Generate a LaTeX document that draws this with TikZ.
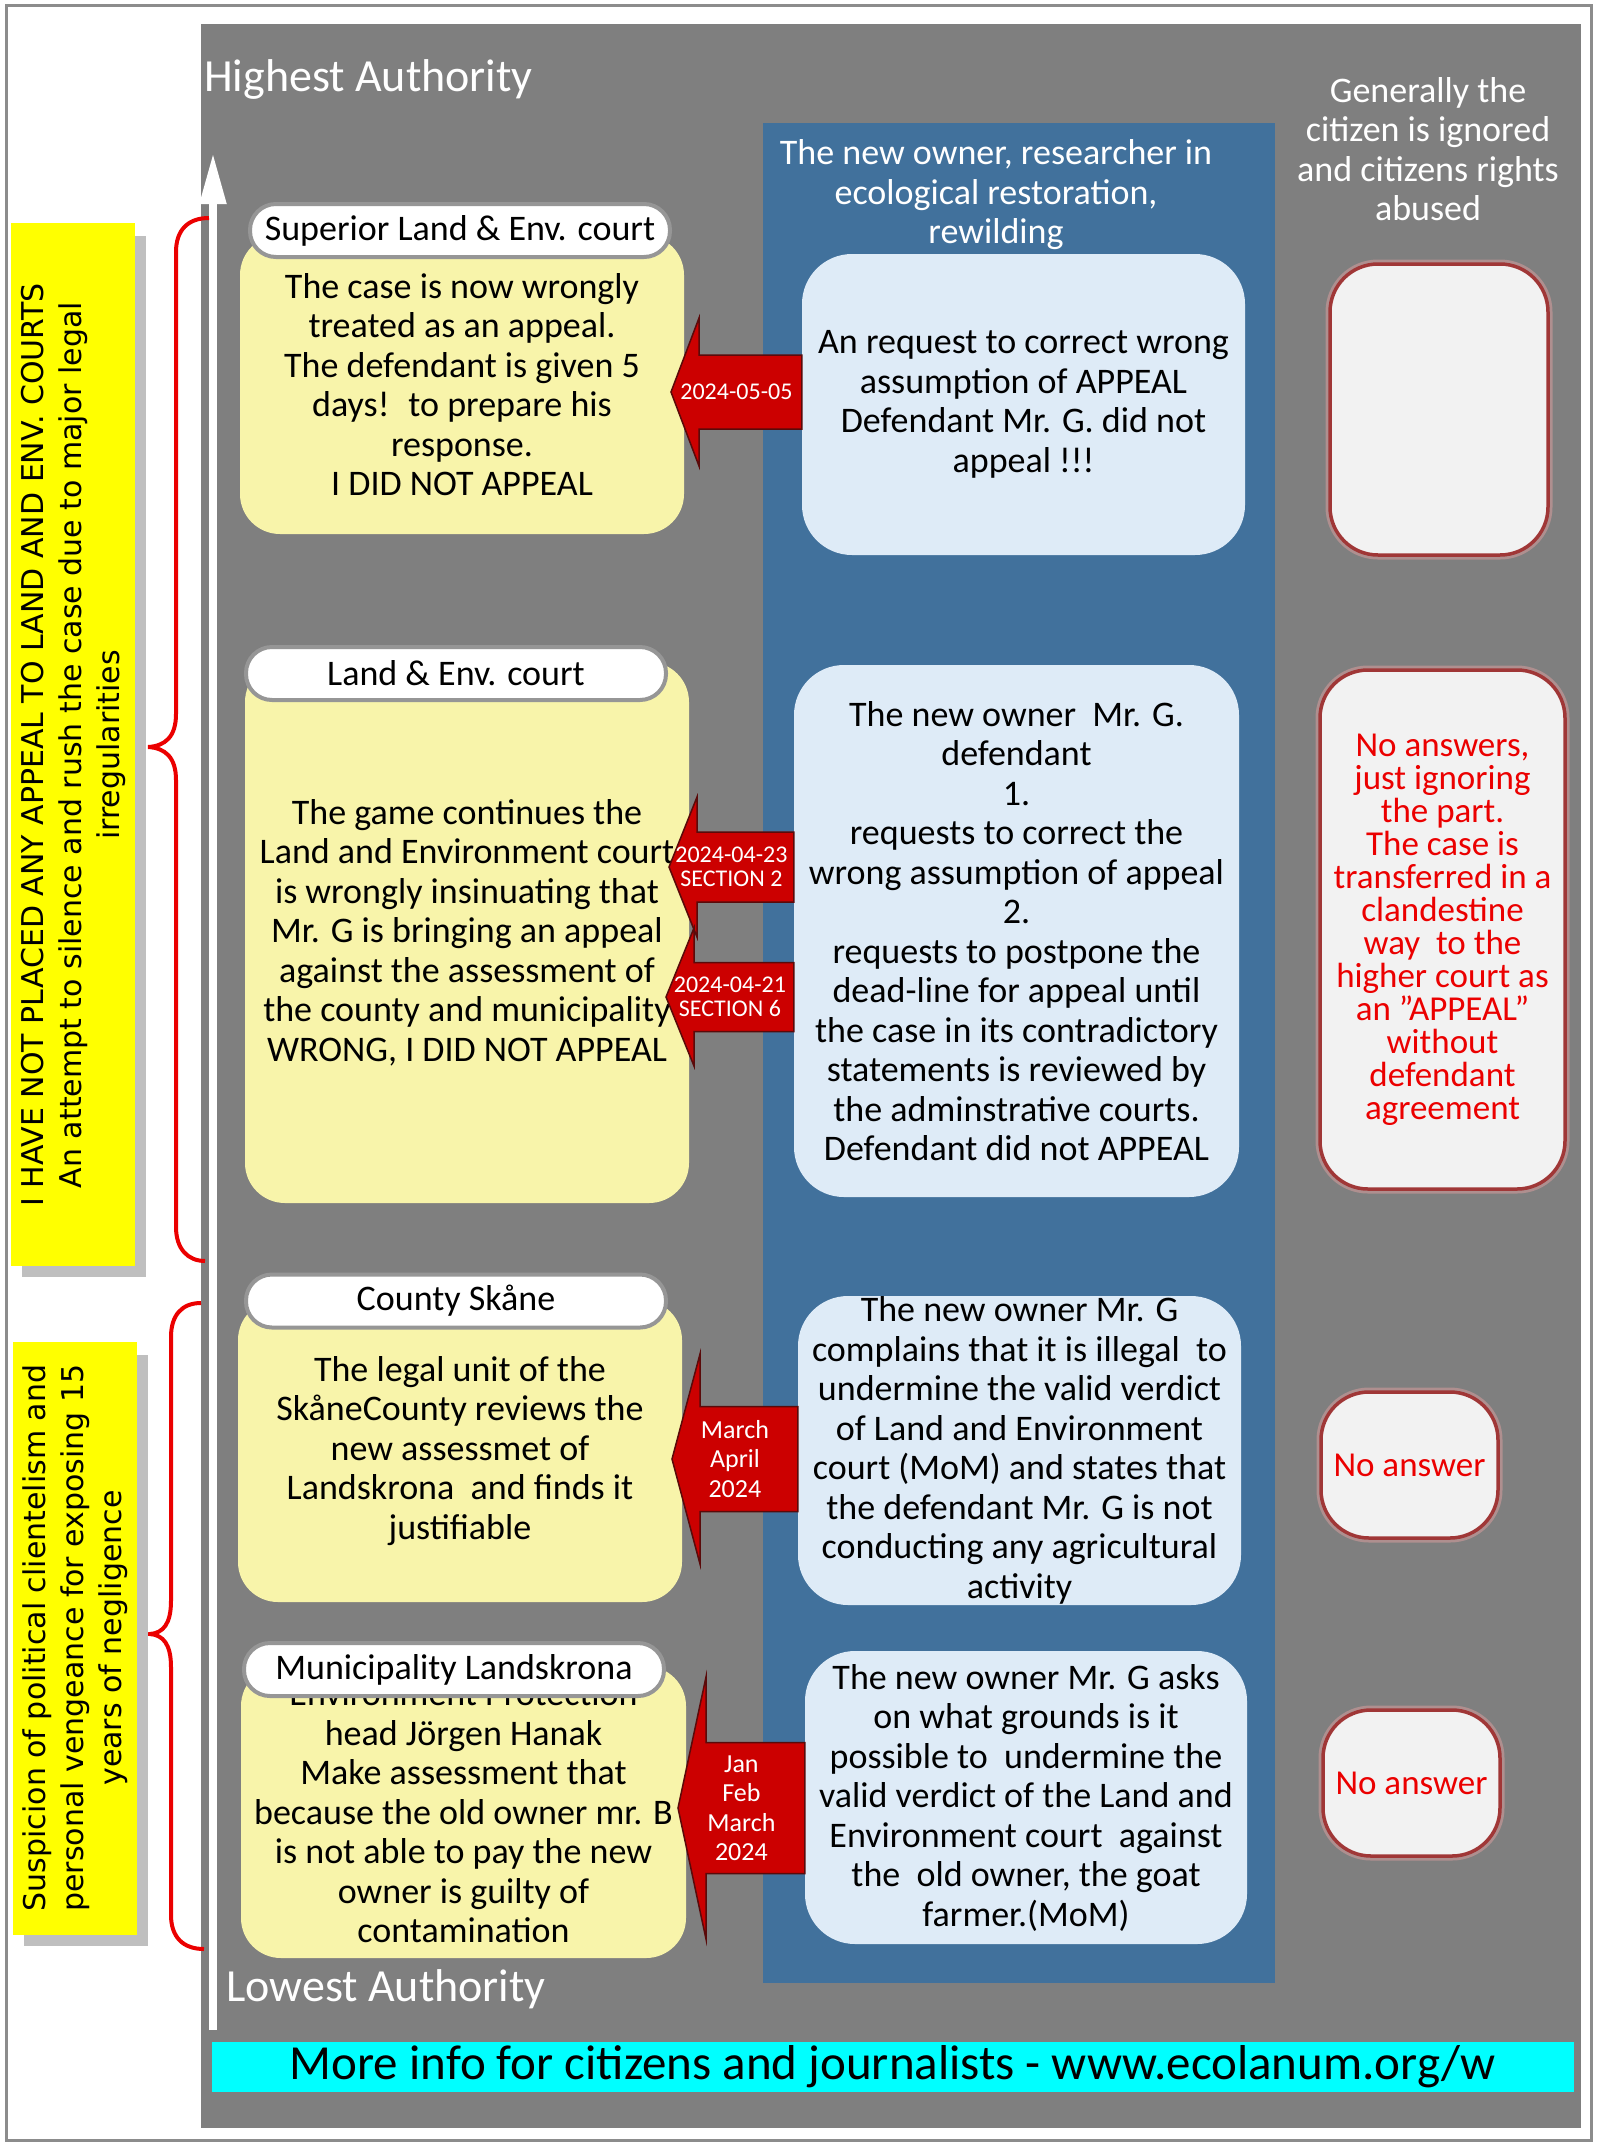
\documentclass[tikz,border=0pt]{standalone}
\usepackage{fontspec}
\setmainfont{Carlito}
\newfontfamily\sidefont{DejaVu Sans}
\usetikzlibrary{calc,arrows.meta}
\definecolor{frameGray}{RGB}{140,140,140}
\definecolor{panelGray}{RGB}{127,127,127}
\definecolor{ownerBlue}{RGB}{65,113,156}
\definecolor{ownerPale}{RGB}{222,235,247}
\definecolor{courtPale}{RGB}{248,244,170}
\definecolor{headRim}{RGB}{150,150,150}
\definecolor{claimYellow}{RGB}{255,255,0}
\definecolor{claimShade}{RGB}{191,191,191}
\definecolor{silentGray}{RGB}{242,242,242}
\definecolor{silentRim}{RGB}{160,55,55}
\definecolor{answerRed}{RGB}{235,0,0}
\definecolor{dateRed}{RGB}{204,0,0}
\definecolor{dateRim}{RGB}{90,10,10}
\definecolor{braceRed}{RGB}{235,0,0}
\definecolor{infoCyan}{RGB}{0,255,255}

\tikzset{
  court/.style={fill=courtPale, rounded corners=40pt, inner sep=0pt, align=center,
    font=\fontsize{36}{39.5}\selectfont},
  courthead/.style={fill=white, draw=headRim, line width=4pt, rounded corners=26pt,
    minimum width=420pt, minimum height=53pt, inner sep=0pt, font=\fontsize{36}{40}\selectfont},
  owner/.style={fill=ownerPale, rounded corners=50pt, inner sep=0pt, align=center,
    font=\fontsize{36}{39.5}\selectfont},
  silent/.style={fill=silentGray, draw=silentRim, line width=3.5pt, rounded corners=48pt,
    inner sep=0pt, align=center, text=answerRed, font=\fontsize{35}{33}\selectfont,
    preaction={draw=silentRim!50, line width=9pt, opacity=0.6}},
  coltitle/.style={text=white, align=center, inner sep=0pt, font=\fontsize{36}{39.5}\selectfont},
  authority/.style={text=white, inner sep=0pt, anchor=west, font=\fontsize{46}{50}\selectfont},
  claimtext/.style={rotate=90, align=center, inner sep=0pt, font=\sidefont\fontsize{30}{38}\selectfont},
  datearrow/.style={fill=dateRed, draw=dateRim, line width=1.5pt, line join=miter},
  datetext/.style={text=white, align=center, inner sep=0pt},
  brace/.style={draw=braceRed, line width=4pt},
}

\begin{document}
\begin{tikzpicture}[x=1pt,y=-1pt]
  \useasboundingbox (0,0) rectangle (1600,2150);
  % frame, panel and owner column
  \draw[frameGray, line width=3pt] (6,5) rectangle (1591,2140);
  \fill[panelGray] (201,24) rectangle (1581,2128);
  \fill[ownerBlue] (763,123) rectangle (1275,1983);
  % titles
  \node[authority] (hightxt) at (204,79) {Highest Authority};
  \node[authority] (lowtxt) at (226,1989) {Lowest Authority};
  \node[coltitle] (ownertitle) at (996,195) {The new owner, researcher in\\ecological restoration,\\rewilding};
  \node[coltitle] (citizentitle) at (1428,149) {Generally the\\citizen is ignored\\and citizens rights\\abused};
  % authority axis
  \coordinate (low) at (213,2030);
  \coordinate (high) at (213,153);
  \draw[white, line width=8pt, -{Triangle[width=25pt,length=51pt]}] (low) -- (high);
  % braces
  \draw[brace] (209,218) .. controls (188,218) and (176,230) .. (176,252) -- (176,714)
    .. controls (176,737) and (165,746) .. (148,747) .. controls (165,748) and (176,757) .. (176,780)
    -- (176,1227) .. controls (176,1249) and (188,1261) .. (205,1261);
  \draw[brace] (201,1303) .. controls (182,1303) and (171,1315) .. (171,1337) -- (171,1601)
    .. controls (171,1624) and (163,1633) .. (150,1634) .. controls (163,1635) and (171,1644) .. (171,1667)
    -- (171,1915) .. controls (171,1937) and (183,1949) .. (204,1949);
  % side notes
  \fill[claimShade] (22,236) rectangle (146,1277);
  \fill[claimYellow] (11,223) rectangle (135,1266);
  \node[claimtext] (claim) at (73,745) {I HAVE NOT PLACED ANY APPEAL TO LAND AND ENV. COURTS\\An attempt to silence and rush the case due to major legal\\irregularities};
  \fill[claimShade] (24,1355) rectangle (148,1946);
  \fill[claimYellow] (13,1342) rectangle (137,1935);
  \node[claimtext] (suspicion) at (75,1638) {Suspicion of political clientelism and\\personal vengeance for exposing 15\\years of negligence};
  % courts
  \node[court, minimum width=444pt, minimum height=299pt] (csup) at (462,384.5)
    {The case is now wrongly\\treated as an appeal.\\The defendant is given 5\\days!~ to prepare his\\response.\\I DID NOT APPEAL};
  \node[court, minimum width=444pt, minimum height=541pt] (cland) at (467,932.5)
    {The game continues the\\Land and Environment court\\is wrongly insinuating that\\Mr. G is bringing an appeal\\against the assessment of\\the county and municipality\\WRONG, I DID NOT APPEAL};
  \node[court, minimum width=444pt, minimum height=302pt] (ccounty) at (460,1451)
    {The legal unit of the\\SkåneCounty reviews the\\new assessmet of\\Landskrona~ and finds it\\justifiable};
  \node[court, minimum width=445pt, minimum height=292pt] (cmun) at (463.5,1812)
    {Environment Protection\\head Jörgen Hanak\\Make assessment that\\because the old owner mr. B\\is not able to pay the new\\owner is guilty of\\contamination};
  \foreach \nm/\x/\y/\lbl in {hsup/460/230.5/{Superior Land \& Env. court}, hland/456/673.5/{Land \& Env. court},
      hcounty/456/1301/{County Skåne}, hmun/454/1669.5/{Municipality Landskrona}}
    \node[courthead] (\nm) at (\x,\y) {\lbl};
  % owner
  \node[owner, minimum width=443pt, minimum height=301pt] (osup) at (1023.5,404.5)
    {An request to correct wrong\\assumption of APPEAL\\Defendant Mr. G. did not\\appeal !!!};
  \node[owner, minimum width=445pt, minimum height=532pt] (oland) at (1016.5,931)
    {The new owner~ Mr. G.\\defendant\\1.\\requests to correct the\\wrong assumption of appeal\\2.\\requests to postpone the\\dead-line for appeal until\\the case in its contradictory\\statements is reviewed by\\the adminstrative courts.\\Defendant did not APPEAL};
  \node[owner, minimum width=443pt, minimum height=309pt] (ocounty) at (1019.5,1450.5)
    {The new owner Mr. G\\complains that it is illegal~ to\\undermine the valid verdict\\of Land and Environment\\court (MoM) and states that\\the defendant Mr. G is not\\conducting any agricultural\\activity};
  \node[owner, minimum width=442pt, minimum height=293pt] (omun) at (1026,1797.5)
    {The new owner Mr. G asks\\on what grounds is it\\possible to~ undermine the\\valid verdict of the Land and\\Environment court~ against\\the~ old owner, the goat\\farmer.(MoM)};
  % citizen
  \node[silent, minimum width=218pt, minimum height=291pt] (rsup) at (1439,409.5) {};
  \node[silent, minimum width=245pt, minimum height=519pt] (rland) at (1442.5,929.5)
    {No answers,\\just ignoring\\the part.\\The case is\\transferred in a\\clandestine\\way~ to the\\higher court as\\an ”APPEAL”\\without\\defendant\\agreement};
  \node[silent, minimum width=177pt, minimum height=146pt] (rcounty) at (1409.5,1465) {No answer};
  \node[silent, minimum width=177pt, minimum height=146pt] (rmun) at (1411.5,1783) {No answer};
  % dates
  \foreach \tx/\ty/\hw/\src/\fs/\ls/\lbl [count=\i] in {
      671/392/37/osup/24/24/{2024-05-05},
      669/867/35/oland/24/24/{2024-04-23\\SECTION 2},
      666/997/34.5/oland/24/24/{2024-04-21\\SECTION 6},
      672/1459/52.5/ocounty/26/29.5/{March\\April\\2024},
      678/1808/65.5/omun/26/29.5/{Jan\\Feb\\March\\2024}} {
    \coordinate (tip\i) at (\tx,\ty);
    \coordinate (end\i) at (\src.west |- tip\i);
    \draw[datearrow] ($(end\i)+(0,-\hw)$) -- ($(tip\i)+(28,-\hw)$) -- ($(tip\i)+(28,-2*\hw)$) -- (tip\i)
      -- ($(tip\i)+(28,2*\hw)$) -- ($(tip\i)+(28,\hw)$) -- ($(end\i)+(0,\hw)$) -- cycle;
    \node[datetext, font=\fontsize{\fs}{\ls}\selectfont] (date\i) at ($(tip\i)!0.5!(end\i)$) {\lbl};
  }
  % info bar
  \node[fill=infoCyan, minimum width=1362pt, minimum height=50pt, inner sep=0pt,
    font=\fontsize{49}{50}\selectfont] (info) at (893,2067) {More info for citizens and journalists - www.ecolanum.org/w};
\end{tikzpicture}
\end{document}
